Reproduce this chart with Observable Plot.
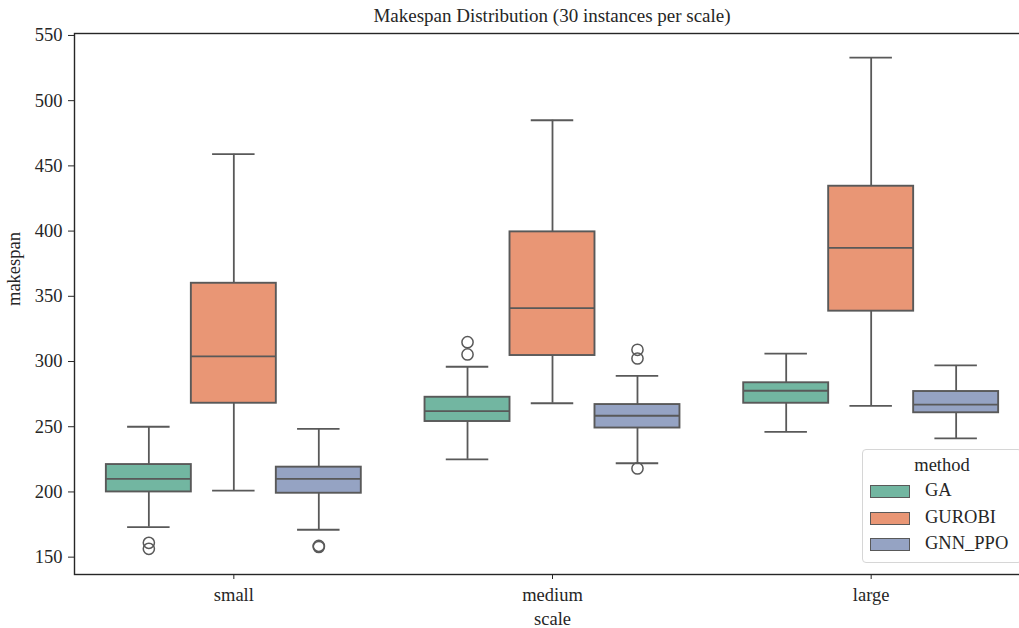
<!DOCTYPE html>
<html>
<head>
<meta charset="utf-8">
<script src="https://cdn.jsdelivr.net/npm/d3@7"></script>
<script src="https://cdn.jsdelivr.net/npm/@observablehq/plot@0.6"></script>
<style>
  html, body { margin: 0; padding: 0; background: #fff; overflow: hidden; }
  #wrap { position: relative; width: 1019px; height: 628px; overflow: hidden; font-family: 'Liberation Serif', serif; color: #262626; }
  #title { position: absolute; left: 74px; top: 2px; width: 956px; height: 28px; line-height: 28px; text-align: center; font-size: 19px; }
  #chart { position: absolute; left: 0; top: 28px; }
  #legend { position: absolute; left: 862px; top: 449px; width: 160px; height: 114px; box-sizing: border-box;
            border: 1px solid #d6d6d6; border-radius: 4px; background: rgba(255,255,255,0.85); font-size: 18.5px; }
  #legend .lt { position: absolute; left: 0; width: 100%; text-align: center; top: 5px; }
  #legend .row { position: absolute; left: 7px; height: 14px; }
  #legend .sw { position: absolute; left: 0; top: 0; width: 40px; height: 13px; box-sizing: border-box; border: 1.6px solid #595959; }
  #legend .lb { position: absolute; left: 55px; top: -6px; white-space: nowrap; line-height: 22px; }
</style>
</head>
<body>
<div id="wrap">
  <div id="title">Makespan Distribution (30 instances per scale)</div>
  <div id="chart"></div>
  <div id="legend"></div>
</div>
<script>
const scales = ["small", "medium", "large"];
const methods = ["GA", "GUROBI", "GNN_PPO"];
const methodColors = ["#72b6a1", "#e99675", "#95a3c3"];
const lineColor = "#595959";

// order: small(GA, GUROBI, GNN_PPO), medium(...), large(...)
const whiskerLow  = [173, 201, 171,   225, 268,   222,   246,   266,   241];
const q1          = [200, 268, 199,   254, 304.6, 249,   268,   338.6, 260.7];
const median      = [210, 304, 210,   262, 341,   258.4, 277.6, 387.2, 267];
const q3          = [221, 360, 219,   272.6, 399.4, 267, 283.7, 434.4, 277];
const whiskerHigh = [250, 459, 248.4, 296, 485,   289,   306,   533,   297];

const outlierScale  = ["small", "small", "small", "small", "medium", "medium", "medium", "medium", "medium"];
const outlierMethod = ["GA", "GA", "GNN_PPO", "GNN_PPO", "GA", "GA", "GNN_PPO", "GNN_PPO", "GNN_PPO"];
const outlierValue  = [161, 156.4, 158.6, 157.8, 314.8, 305.4, 309, 302.3, 218];

const yTicks = [150, 200, 250, 300, 350, 400, 450, 500, 550];

// seaborn-style dodge positions
const boxW = 0.8 / methods.length;
const posOf = (s, m) => scales.indexOf(s) + (methods.indexOf(m) - (methods.length - 1) / 2) * boxW;

const boxes = [];
scales.forEach((s, si) => methods.forEach((m, mi) => {
  const k = si * methods.length + mi;
  boxes.push({scale: s, method: m, pos: posOf(s, m), lo: whiskerLow[k], q1: q1[k], med: median[k], q3: q3[k], hi: whiskerHigh[k]});
}));
const outliers = outlierValue.map((v, i) => ({scale: outlierScale[i], method: outlierMethod[i], pos: posOf(outlierScale[i], outlierMethod[i]), value: v}));

const plot = Plot.plot({
  width: 1040,
  height: 600,
  marginLeft: 74,
  marginRight: 10,
  marginTop: 5,
  marginBottom: 54,
  style: {maxWidth: "none", fontFamily: "'Liberation Serif', serif", fontSize: "18.5px", color: "#262626", background: "transparent", overflow: "visible"},
  x: {domain: [-0.5, 2.5]},
  y: {domain: [136.7, 551.5]},
  color: {domain: methods, range: methodColors},
  marks: [
    Plot.ruleX(boxes, {x: "pos", y1: "lo", y2: "hi", stroke: lineColor, strokeWidth: 1.8}),
    Plot.ruleY(boxes, {y: "lo", x1: d => d.pos - boxW / 4, x2: d => d.pos + boxW / 4, stroke: lineColor, strokeWidth: 1.8}),
    Plot.ruleY(boxes, {y: "hi", x1: d => d.pos - boxW / 4, x2: d => d.pos + boxW / 4, stroke: lineColor, strokeWidth: 1.8}),
    Plot.rect(boxes, {x1: d => d.pos - boxW / 2, x2: d => d.pos + boxW / 2, y1: "q1", y2: "q3", fill: "method", stroke: lineColor, strokeWidth: 1.9}),
    Plot.ruleY(boxes, {y: "med", x1: d => d.pos - boxW / 2, x2: d => d.pos + boxW / 2, stroke: lineColor, strokeWidth: 1.8}),
    Plot.dot(outliers, {x: "pos", y: "value", r: 5.6, stroke: lineColor, strokeWidth: 1.5, fill: "none"}),
    Plot.frame({stroke: "#262626", strokeWidth: 1.4}),
    Plot.axisY({ticks: yTicks, tickSize: 6, tickPadding: 6, label: null, fontSize: 18.5, fontFamily: "'Liberation Serif', serif", stroke: "#262626"}),
    Plot.axisX({ticks: [0, 1, 2], tickFormat: i => scales[i], tickSize: 5, tickPadding: 8, label: null, fontSize: 18.5, fontFamily: "'Liberation Serif', serif", stroke: "#262626"}),
    Plot.text(["makespan"], {text: d => d, frameAnchor: "left", rotate: -90, dx: -60.5, dy: 2, fontSize: 18.5, fontFamily: "'Liberation Serif', serif", fill: "#262626"}),
    Plot.text(["scale"], {text: d => d, frameAnchor: "bottom", dy: 50, fontSize: 18.5, fontFamily: "'Liberation Serif', serif", fill: "#262626"})
  ]
});
document.getElementById("chart").appendChild(plot);

// legend
const legend = document.getElementById("legend");
const lt = document.createElement("div");
lt.className = "lt";
lt.textContent = "method";
legend.appendChild(lt);
methods.forEach((m, i) => {
  const row = document.createElement("div");
  row.className = "row";
  row.style.top = (35 + i * 26.7) + "px";
  const sw = document.createElement("div");
  sw.className = "sw";
  sw.style.background = methodColors[i];
  const lb = document.createElement("div");
  lb.className = "lb";
  lb.textContent = m;
  row.appendChild(sw);
  row.appendChild(lb);
  legend.appendChild(row);
});
</script>
</body>
</html>
